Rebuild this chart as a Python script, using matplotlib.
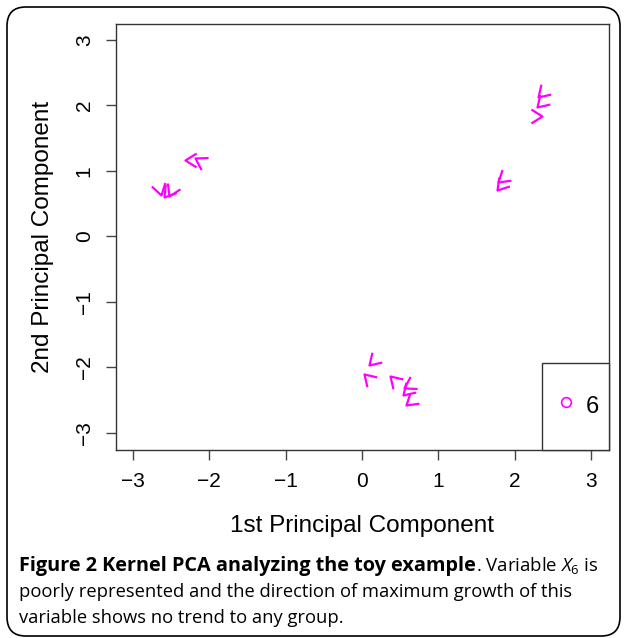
import numpy as np
import matplotlib
matplotlib.use("Agg")
import matplotlib.pyplot as plt
from matplotlib.path import Path
from matplotlib.markers import MarkerStyle
from matplotlib.transforms import Affine2D
from matplotlib.patches import FancyBboxPatch
from matplotlib.legend_handler import HandlerLine2D

plt.rcParams['font.family'] = ['Liberation Sans', 'DejaVu Sans']
plt.rcParams['mathtext.fontset'] = 'custom'
plt.rcParams['mathtext.rm'] = 'Open Sans'
plt.rcParams['mathtext.it'] = 'Open Sans:italic'

# points (kernel PCA scores) and the direction of the arrow head at each one
pc1 = [-2.63, -2.59, -2.53, -2.32, -2.19,
       2.31, 2.29, 2.36, 1.77, 1.78,
       0.09, 0.03, 0.37, 0.55, 0.54, 0.58]
pc2 = [0.63, 0.60, 0.62, 1.17, 1.20,
       2.13, 1.98, 1.84, 0.71, 0.83,
       -1.96, -2.10, -2.13, -2.31, -2.42, -2.57]
head_dir = [-75, -128, -115, 180, 150,
            -135, -135, 0, -130, -140,
            -135, 135, 135, -150, -135, -140]

ticks = [-3, -2, -1, 0, 1, 2, 3]


class LowerHandler(HandlerLine2D):
    # move the legend circle down so it sits level with the label
    def create_artists(self, *args, **kwargs):
        arts = super().create_artists(*args, **kwargs)
        for a in arts:
            a.set_ydata(np.asarray(a.get_ydata()) - 6.5)
        return arts


fig = plt.figure(figsize=(6.24, 6.38), dpi=100)
ax = fig.add_axes([116/624, 1-450/638, (609-116)/624, (450-24)/638])

half = np.deg2rad(32)
head = Path([(-np.cos(half), np.sin(half)), (0, 0), (-np.cos(half), -np.sin(half))],
            [Path.MOVETO, Path.LINETO, Path.LINETO])

for x, y, d in zip(pc1, pc2, head_dir):
    m = MarkerStyle(head, fillstyle='none', transform=Affine2D().rotate_deg(d))
    ax.plot([x], [y], linestyle='none', marker=m, markersize=16,
            markeredgecolor='#ff00ff', markeredgewidth=1.6)

ax.set_xlim(-3.223, 3.236)
ax.set_ylim(-3.26, 3.244)
ax.set_xticks(ticks)
ax.set_yticks(ticks)
ax.set_xticklabels(['\u22123', '\u22122', '\u22121', '0', '1', '2', '3'])
ax.set_yticklabels(['\u22123', '\u22122', '\u22121', '0', '1', '2', '3'],
                   rotation=90, va='center')
ax.tick_params(labelsize=15, length=7, width=1, pad=9, color='#444444')
for s in ax.spines.values():
    s.set_linewidth(1)
    s.set_color('#333333')
ax.set_xlabel('1st Principal Component', fontsize=17.5, labelpad=17)
ax.set_ylabel('2nd Principal Component', fontsize=17.5, labelpad=15)

# legend
h6, = ax.plot([], [], linestyle='none', marker='o', markersize=7, markerfacecolor='none',
              markeredgecolor='#ff00ff', markeredgewidth=1.2, label='6')
leg = ax.legend(loc='lower right', borderaxespad=0, fancybox=False, fontsize=17,
                handlelength=1.16, handletextpad=0.27, borderpad=0.42,
                handleheight=4.0, framealpha=1, edgecolor='#333333',
                handler_map={h6: LowerHandler()})
leg.get_frame().set_linewidth(1)

# outer border
fig.patches.append(FancyBboxPatch((7/624, 2/638), 613/624, 629/638,
                                  boxstyle='round,pad=0,rounding_size=0.03',
                                  transform=fig.transFigure, fill=False,
                                  edgecolor='black', linewidth=1.2))

# caption
fig.canvas.draw()
r = fig.canvas.get_renderer()
cap = dict(family='Open Sans', va='baseline')
t1 = fig.text(19/624, 1-571/638, 'Figure 2 Kernel PCA analyzing the toy example',
              fontweight='bold', fontsize=14.3, **cap)
bb = t1.get_window_extent(r)
fig.text(bb.x1/624, 1-571/638, '. Variable $X_6$ is', fontsize=13.4, **cap)
fig.text(19/624, 1-597/638,
         'poorly represented and the direction of maximum growth of this',
         fontsize=13.2, **cap)
fig.text(19/624, 1-623/638, 'variable shows no trend to any group.',
         fontsize=13.2, **cap)

fig.savefig('out.png', dpi=100)
